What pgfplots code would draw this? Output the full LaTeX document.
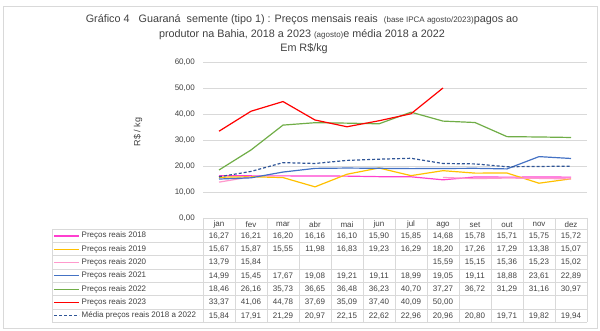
\documentclass[border=0pt]{standalone}
\usepackage{pgfplots}
\pgfplotsset{compat=1.18}
\usepackage{pgfplotstable}
\usepackage{fontspec}
\setmainfont{Liberation Sans}
\definecolor{c18}{HTML}{FF3FCF}
\definecolor{c19}{HTML}{FFC000}
\definecolor{c20}{HTML}{FF99CC}
\definecolor{c21}{HTML}{4472C4}
\definecolor{c22}{HTML}{70AD47}
\definecolor{c23}{HTML}{FF0000}
\definecolor{cmed}{HTML}{2F5597}
\definecolor{gridgray}{HTML}{D9D9D9}
\definecolor{textgray}{HTML}{404040}
\newcommand\fs[1]{\fontsize{#1}{#1}\selectfont}
\pgfkeys{/pgf/number format/.cd, fixed, fixed zerofill, precision=2, use comma, 1000 sep={}, assume math mode=true}
\pgfplotstableread{
m y18 y19 y20 y21 y22 y23 ym
0 16.27 15.67 13.79 14.99 18.46 33.37 15.84
1 16.21 15.87 15.84 15.45 26.16 41.06 17.91
2 16.20 15.55 nan 17.67 35.73 44.78 21.29
3 16.16 11.98 nan 19.08 36.65 37.69 20.97
4 16.10 16.83 nan 19.21 36.48 35.09 22.15
5 15.90 19.23 nan 19.11 36.23 37.40 22.62
6 15.85 16.29 nan 18.99 40.70 40.09 22.96
7 14.68 18.20 15.59 19.05 37.27 50.00 20.96
8 15.78 17.26 15.15 19.11 36.72 nan 20.80
9 15.71 17.29 15.36 18.88 31.29 nan 19.71
10 15.75 13.38 15.23 23.61 31.16 nan 19.82
11 15.72 15.07 15.02 22.89 30.97 nan 19.94
}\datatable
\def\nanstr{nan}
\tikzset{
 lA/.style={c18, line width=1.2pt},
 lB/.style={c19, line width=1.2pt},
 lC/.style={c20, line width=1.2pt},
 lD/.style={c21, line width=1.2pt},
 lE/.style={c22, line width=1.2pt},
 lF/.style={c23, line width=1.2pt},
 lG/.style={cmed, line width=1.2pt, dash pattern=on 3pt off 2pt},
}
\begin{document}
\begin{tikzpicture}[x=1pt,y=1pt]
\path[use as bounding box] (0,0) rectangle (600,331);
\draw[gridgray, line width=0.8pt] (3,3) rectangle (597,325);
% title
\node[textgray, anchor=center] at (302,311.5) {\fs{10.8}Gráfico 4\ \ \ Guaraná\ \ semente (tipo 1) : Preços mensais reais\ \ {\fs{8}(base IPCA agosto/2023)}pagos ao};
\node[textgray, anchor=center] at (302,296.5) {\fs{10.8}produtor na Bahia, 2018 a 2023 {\fs{8}(agosto)}e média 2018 a 2022};
\node[textgray, anchor=center] at (304,282) {\fs{10.8}Em R\$/kg};
\node[textgray, rotate=90] at (138,199) {\fs{9}R\$ / kg};
\begin{axis}[
  at={(203pt,113pt)}, anchor=south west, scale only axis,
  width=384pt, height=156pt,
  xmin=-0.5, xmax=11.5, ymin=0, ymax=60,
  ytick={0,10,...,60},
  xtick={0,...,11},
  xticklabels={jan,fev,mar,abr,mai,jun,jul,ago,set,out,nov,dez},
  axis line style={draw=none},
  ymajorgrids, grid style={gridgray, line width=0.8pt},
  major tick length=0pt,
  tick label style={font=\fs{8}, text=textgray},
  yticklabel style={anchor=east, inner sep=0pt, xshift=-8pt,
    /pgf/number format/fixed, /pgf/number format/fixed zerofill,
    /pgf/number format/precision=2, /pgf/number format/use comma},
  xticklabel style={anchor=center, yshift=-6.7pt},
  unbounded coords=jump,
  clip=false,
]
\addplot[lA, no marks] table[x=m,y=y18]{\datatable};
\addplot[lB, no marks] table[x=m,y=y19]{\datatable};
\addplot[lC, no marks] table[x=m,y=y20]{\datatable};
\addplot[lD, no marks] table[x=m,y=y21]{\datatable};
\addplot[lE, no marks] table[x=m,y=y22]{\datatable};
\addplot[lF, no marks] table[x=m,y=y23]{\datatable};
\addplot[lG, no marks] table[x=m,y=ym]{\datatable};
\end{axis}
% table grid
\foreach \k in {0,...,12} \draw[gridgray, line width=0.8pt] ({203+32*\k},113) -- ({203+32*\k},8.6);
\foreach \k in {0,...,7} \draw[gridgray, line width=0.8pt] (52,{101.7-13.3*\k}) -- (587,{101.7-13.3*\k});
\draw[gridgray, line width=0.8pt] (52,101.7) -- (52,8.6);
% rows
\foreach \col/\sty/\lab [count=\r from 0] in {
  y18/lA/{Preços reais 2018},
  y19/lB/{Preços reais 2019},
  y20/lC/{Preços reais 2020},
  y21/lD/{Preços reais 2021},
  y22/lE/{Preços reais 2022},
  y23/lF/{Preços reais 2023},
  ym/lG/{Média preços reais 2018 a 2022}} {
  \pgfmathsetmacro\yc{95.05-13.3*\r}
  \draw[\sty] (54,\yc) -- (79,\yc);
  \node[anchor=west, inner sep=0pt, textgray] at (81.5,\yc) {\fs{8}\lab};
  \foreach \i in {0,...,11} {
    \pgfplotstablegetelem{\i}{\col}\of\datatable
    \edef\val{\pgfplotsretval}
    \ifx\val\nanstr\else
      \node[textgray, inner sep=0pt] at ({219+32*\i},\yc) {\fs{8}\pgfmathprintnumber{\val}};
    \fi
  }
}
\end{tikzpicture}
\end{document}
